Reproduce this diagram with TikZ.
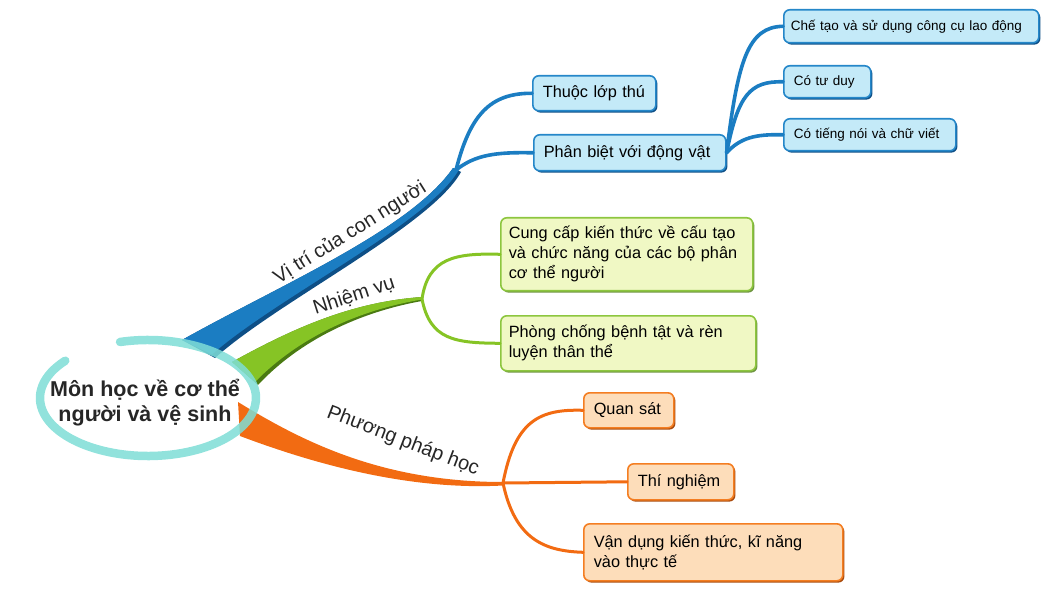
\documentclass[tikz,border=0pt]{standalone}
\usepackage{fontspec}
\setmainfont{Liberation Sans}
\usetikzlibrary{shadows}
\definecolor{bluebr}{HTML}{1B7DC2}
\definecolor{bluedk}{HTML}{0E4F86}
\definecolor{bluefill}{HTML}{C4EAF8}
\definecolor{blueline}{HTML}{2587C9}
\definecolor{greenbr}{HTML}{86C425}
\definecolor{greendk}{HTML}{4A7A12}
\definecolor{greenfill}{HTML}{F0F8C4}
\definecolor{greenline}{HTML}{8DC63F}
\definecolor{orangebr}{HTML}{F26B12}
\definecolor{orangefill}{HTML}{FDDDBA}
\definecolor{orangeline}{HTML}{F47E22}
\definecolor{ringcol}{HTML}{7EDDD6}
\tikzset{
  boxbase/.style={rounded corners=6pt, line width=1.6pt, anchor=north west, align=left, inner xsep=10pt, inner ysep=2pt},
  bbox/.style={boxbase, draw=blueline, fill=bluefill, drop shadow={shadow xshift=1.6pt, shadow yshift=-1.8pt, fill=bluedk, opacity=1}},
  gbox/.style={boxbase, inner xsep=8pt, draw=greenline, fill=greenfill, drop shadow={shadow xshift=1.6pt, shadow yshift=-1.8pt, fill=greendk!80, opacity=1}},
  obox/.style={boxbase, draw=orangeline, fill=orangefill, drop shadow={shadow xshift=1.6pt, shadow yshift=-1.8pt, fill=orangebr!70!black, opacity=1}},
  bcon/.style={draw=bluebr, line width=3.6pt, line cap=round},
  gcon/.style={draw=greenbr, line width=3pt, line cap=round},
  ocon/.style={draw=orangebr, line width=3pt, line cap=round},
  brlabel/.style={font=\fontsize{20}{22}\selectfont, inner sep=0pt, text=black!85},
  small/.style={font=\fontsize{13.5}{16}\selectfont},
  big/.style={font=\fontsize{16.3}{20}\selectfont},
}
\begin{document}
\begin{tikzpicture}[x=1pt,y=-1pt]
\useasboundingbox (0,0) rectangle (1051,601);

% fork points
\coordinate (bf) at (456,170);
\coordinate (gf) at (422,299);
\coordinate (of) at (503,483);

% ----- boxes -----
\node[bbox, small, inner xsep=7pt, minimum height=33pt, text width=241pt] (chetao) at (783,9) {Chế tạo và sử dụng công cụ lao động};
\node[bbox, small, minimum height=32pt, text width=67pt] (tuduy) at (783,65) {Có tư duy};
\node[bbox, small, minimum height=32pt, text width=152pt] (tiengnoi) at (783,118) {Có tiếng nói và chữ viết};
\node[bbox, big, minimum height=35pt, text width=103pt] (thuoc) at (532,75) {Thuộc lớp thú};
\node[bbox, big, minimum height=36pt, text width=172pt] (phanbiet) at (533,134) {Phân biệt với động vật};

\node[gbox, big, minimum height=73pt, text width=236pt] (cungcap) at (500,217) {Cung cấp kiến thức về cấu tạo\\và chức năng của các bộ phân\\cơ thể người};
\node[gbox, big, minimum height=55pt, text width=239pt] (phong) at (500,315) {Phòng chống bệnh tật và rèn\\luyện thân thể};

\node[obox, big, minimum height=35pt, text width=70pt] (quansat) at (583,392) {Quan sát};
\node[obox, big, minimum height=36pt, text width=86pt] (thinghiem) at (627,463) {Thí nghiệm};
\node[obox, big, minimum height=57pt, text width=239pt] (vandung) at (583,523) {Vận dụng kiến thức, kĩ năng\\vào thực tế};

% ----- thick branches -----
% blue
\fill[bluedk] (182,340) .. controls (280,285) and (410,230) .. (453,168) -- (461,172) .. controls (431,226) and (277,302) .. (215,358) -- cycle;
\fill[bluebr] (182,340) .. controls (280,285) and (410,230) .. (453,168) -- (459,169.5) .. controls (429,223) and (275,298.5) .. (212,354.5) -- cycle;
% green
\fill[greendk] (232,362) .. controls (290,330) and (350,302) .. (422,297) -- (422,301) .. controls (360,312) and (300,340) .. (258,385) -- cycle;
\fill[greenbr] (232,362) .. controls (290,330) and (350,302) .. (422,297) -- (422,299.5) .. controls (359,310) and (299,337) .. (255,382) -- cycle;
% orange
\fill[orangebr] (238,402) .. controls (300,440) and (380,482) .. (503,482) -- (503,485.5) .. controls (420,490) and (330,470) .. (240,436) -- cycle;

% ----- connectors -----
\draw[bcon] (bf) .. controls (470,115) and (490,93) .. (thuoc.west);
\draw[bcon] (bf) .. controls (475,155) and (495,152) .. (phanbiet.west);
\draw[bcon] (phanbiet.east) .. controls (738,60) and (748,27) .. (chetao.west);
\draw[bcon] (phanbiet.east) .. controls (738,95) and (750,81) .. (tuduy.west);
\draw[bcon] (phanbiet.east) .. controls (740,138) and (755,134) .. (tiengnoi.west);

\draw[gcon] (gf) .. controls (428,258) and (455,253) .. (cungcap.west);
\draw[gcon] (gf) .. controls (430,340) and (455,343) .. (phong.west);

\draw[ocon] (of) .. controls (515,420) and (540,409) .. (quansat.west);
\draw[ocon] (of) -- (thinghiem.west);
\draw[ocon] (of) .. controls (515,540) and (545,551) .. (vandung.west);

% ----- branch labels -----
\node[brlabel, rotate=32] (lblvitri) at (350,233) {Vị trí của con người};
\node[brlabel, rotate=18] (lblnhiemvu) at (354,296) {Nhiệm vụ};
\node[brlabel, rotate=-21] (lblpp) at (403,441) {Phương pháp học};

% ----- central ring -----
\draw[ringcol, line width=8.5pt, opacity=0.85, line cap=round] (148,398) ++(255:108 and 58) arc[start angle=255, end angle=580, x radius=108, y radius=58];
\node[font=\bfseries\fontsize{21.5}{25}\selectfont, align=center, text=black!85] (root) at (145,403) {Môn học về cơ thể\\người và vệ sinh};
\end{tikzpicture}
\end{document}
